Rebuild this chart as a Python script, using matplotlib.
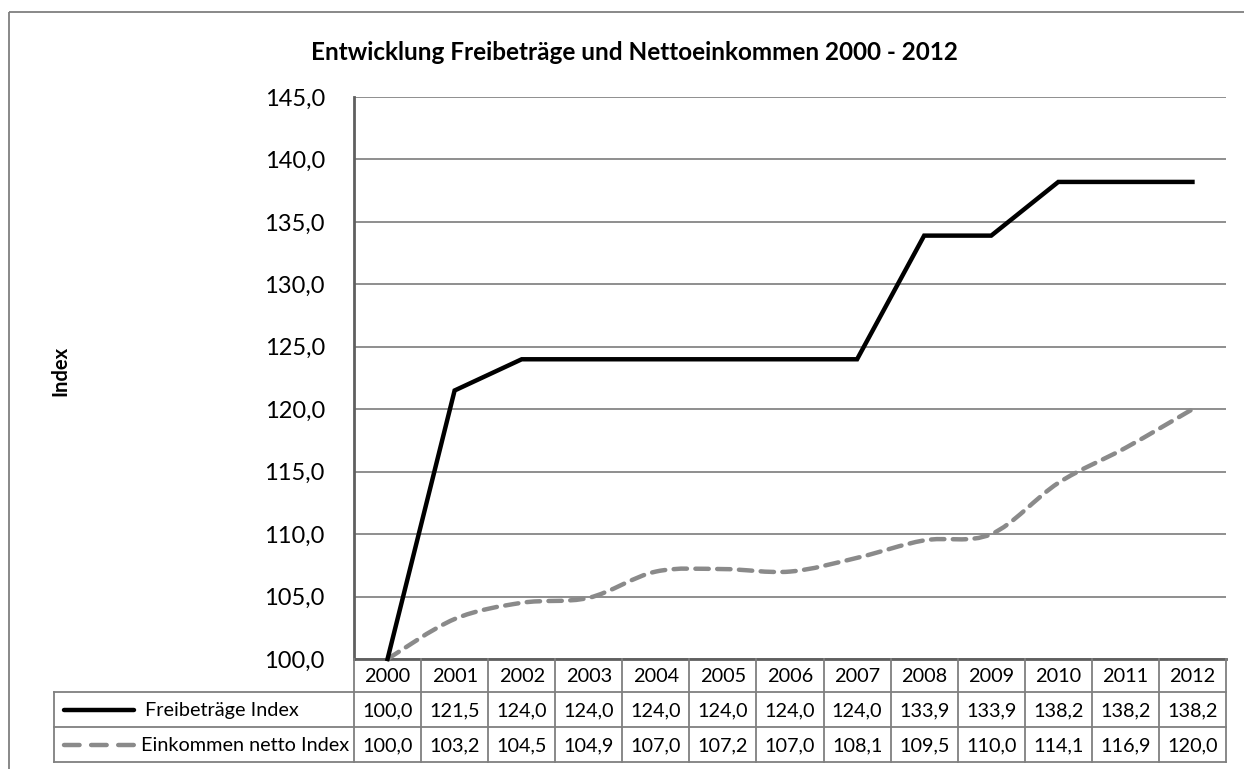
import numpy as np
import matplotlib
matplotlib.use("Agg")
import matplotlib.pyplot as plt
from matplotlib.path import Path
from matplotlib.patches import PathPatch, Rectangle

jahre = [2000, 2001, 2002, 2003, 2004, 2005, 2006, 2007, 2008, 2009, 2010, 2011, 2012]
freibetraege = [100.0, 121.5, 124.0, 124.0, 124.0, 124.0, 124.0, 124.0, 133.9, 133.9, 138.2, 138.2, 138.2]
einkommen = [100.0, 103.2, 104.5, 104.9, 107.0, 107.2, 107.0, 108.1, 109.5, 110.0, 114.1, 116.9, 120.0]
serien = ["Freibeträge Index", "Einkommen netto Index"]
titel = "Entwicklung Freibeträge und Nettoeinkommen 2000 - 2012"

plt.rcParams['font.family'] = ['Lato', 'DejaVu Sans']

W, H = 1244, 769
fig = plt.figure(figsize=(W / 100, H / 100), dpi=100)

# plot area in pixels
left, right, top, bottom = 354, 1226, 97, 659
ax = fig.add_axes([left / W, 1 - bottom / H, (right - left) / W, (bottom - top) / H])

n = len(jahre)
x = np.arange(n)
ax.set_xlim(-0.5, n - 0.5)
ax.set_ylim(100, 145)
ticks = np.arange(100, 146, 5)
ax.set_yticks(ticks)
ax.set_yticklabels([("%.1f" % v).replace(".", ",") for v in ticks])
ax.set_xticks([])
ax.tick_params(axis='y', length=0, pad=21, labelsize=17)
ax.grid(axis='y', color='#868686', linewidth=1.3)
ax.set_axisbelow(True)
for s in ['top', 'right']:
    ax.spines[s].set_visible(False)
ax.spines['left'].set_color('#5f5f5f')
ax.spines['left'].set_linewidth(2)
ax.spines['bottom'].set_color('#5f5f5f')
ax.spines['bottom'].set_linewidth(2)

ax.plot(x, freibetraege, color='black', linewidth=3.2, solid_joinstyle='miter',
        clip_on=False, zorder=4)

# geglaettete Linie (wie Excel), Bezier durch die Datenpunkte
y = np.array(einkommen)
verts = [(x[0], y[0])]
codes = [Path.MOVETO]
for i in range(n - 1):
    p0 = (x[max(i - 1, 0)], y[max(i - 1, 0)])
    p1 = (x[i], y[i])
    p2 = (x[i + 1], y[i + 1])
    p3 = (x[min(i + 2, n - 1)], y[min(i + 2, n - 1)])
    c1 = (p1[0] + (p2[0] - p0[0]) / 6, p1[1] + (p2[1] - p0[1]) / 6)
    c2 = (p2[0] - (p3[0] - p1[0]) / 6, p2[1] - (p3[1] - p1[1]) / 6)
    verts += [c1, c2, p2]
    codes += [Path.CURVE4] * 3
patch = PathPatch(Path(verts, codes), facecolor='none', edgecolor='#8a8a8a',
                  linewidth=3.2, linestyle=(0, (3.0, 1.9)), capstyle='round',
                  clip_on=False, zorder=3)
ax.add_patch(patch)

# overlay for frame, table, titles
ov = fig.add_axes([0, 0, 1, 1])
ov.set_xlim(0, W)
ov.set_ylim(H, 0)
ov.axis('off')
ov.patch.set_visible(False)

ov.add_patch(Rectangle((9, 12), W, H, fill=False, edgecolor='#7f7f7f', linewidth=1.3))

ov.text(634, 52, titel, ha='center', va='center', fontsize=17.5, fontweight='bold')
ov.text(60, 371, "Index", ha='center', va='center', rotation=90, fontsize=14.5, fontweight='bold')

# Datentabelle
cw = (right - left) / n
kanten = [left + k * cw for k in range(n + 1)]
zeilen = [659, 692, 727, 762]
tab_left = 54
lc = '#7f7f7f'
for k, xe in enumerate(kanten):
    ov.plot([xe, xe], [zeilen[0], zeilen[3]], color=lc, linewidth=1.3)
ov.plot([tab_left, tab_left], [zeilen[1], zeilen[3]], color=lc, linewidth=1.3)
for yr in zeilen[1:]:
    ov.plot([tab_left, right], [yr, yr], color=lc, linewidth=1.3)

fs = 14.3
for i, j in enumerate(jahre):
    xc = kanten[i] + cw / 2
    ov.text(xc, (zeilen[0] + zeilen[1]) / 2 + 1, str(j), ha='center', va='center', fontsize=fs)
    ov.text(xc, (zeilen[1] + zeilen[2]) / 2 + 1, ("%.1f" % freibetraege[i]).replace(".", ","),
            ha='center', va='center', fontsize=fs)
    ov.text(xc, (zeilen[2] + zeilen[3]) / 2 + 1, ("%.1f" % einkommen[i]).replace(".", ","),
            ha='center', va='center', fontsize=fs)

y1 = (zeilen[1] + zeilen[2]) / 2
y2 = (zeilen[2] + zeilen[3]) / 2
ov.plot([64, 134], [y1, y1], color='black', linewidth=3.2, solid_capstyle='round')
ov.plot([64, 134], [y2, y2], color='#8a8a8a', linewidth=3.2, linestyle=(0, (3.5, 2.6)),
        dash_capstyle='round')
ov.text(145, y1 + 1, serien[0], ha='left', va='center', fontsize=fs)
ov.text(141, y2 + 1, serien[1], ha='left', va='center', fontsize=fs)

fig.savefig("out.png", dpi=100)
